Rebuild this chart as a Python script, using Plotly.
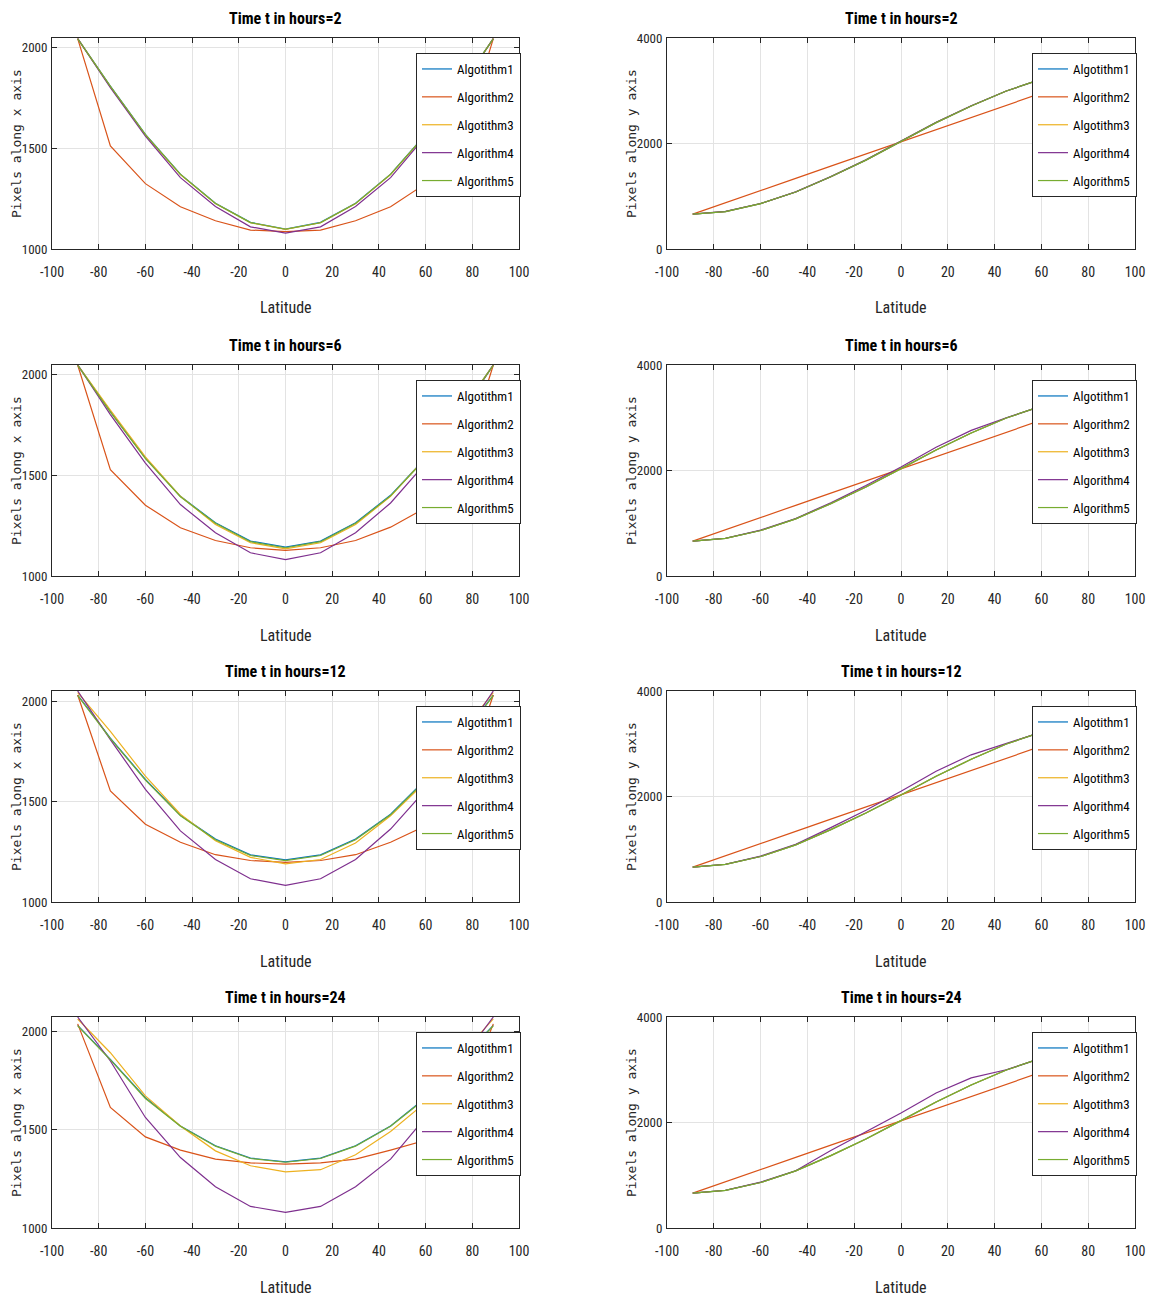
import plotly.graph_objects as go

# ---------------- data ----------------
latitude = [-89, -75, -60, -45, -30, -15, 0, 15, 30, 45, 60, 75, 89]
times = [2, 6, 12, 24]
names = ["Algotithm1", "Algorithm2", "Algotithm3", "Algorithm4", "Algorithm5"]
colors = ["#0072BD", "#D95319", "#EDB120", "#7E2F8E", "#77AC30"]

# Pixels along x axis (left column)
x_t2_alg1 = [2043, 1807, 1568, 1371, 1227, 1132, 1099, 1132, 1227, 1371, 1568, 1807, 2043]
x_t2_alg2 = [2043, 1511, 1324, 1209, 1140, 1094, 1086, 1094, 1140, 1209, 1324, 1511, 2043]
x_t2_alg3 = [2043, 1805, 1566, 1369, 1225, 1130, 1097, 1130, 1225, 1369, 1566, 1805, 2043]
x_t2_alg4 = [2043, 1800, 1560, 1354, 1211, 1110, 1079, 1110, 1211, 1354, 1560, 1800, 2043]
x_t2_alg5 = [2042, 1806, 1567, 1370, 1226, 1131, 1098, 1130, 1225, 1370, 1567, 1806, 2042]

x_t6_alg1 = [2046, 1816, 1585, 1395, 1264, 1173, 1143, 1173, 1264, 1400, 1585, 1816, 2046]
x_t6_alg2 = [2046, 1527, 1351, 1239, 1176, 1140, 1127, 1140, 1176, 1242, 1338, 1527, 2046]
x_t6_alg3 = [2046, 1822, 1590, 1395, 1255, 1165, 1135, 1165, 1255, 1395, 1585, 1816, 2046]
x_t6_alg4 = [2046, 1800, 1560, 1354, 1214, 1115, 1081, 1115, 1214, 1362, 1560, 1800, 2046]
x_t6_alg5 = [2044, 1812, 1582, 1393, 1261, 1170, 1140, 1170, 1261, 1397, 1582, 1812, 2044]

x_t12_alg1 = [2033, 1818, 1612, 1433, 1314, 1235, 1210, 1235, 1314, 1438, 1612, 1818, 2033]
x_t12_alg2 = [2033, 1554, 1388, 1298, 1236, 1207, 1198, 1207, 1236, 1298, 1380, 1554, 2033]
x_t12_alg3 = [2045, 1851, 1628, 1438, 1306, 1223, 1190, 1212, 1294, 1430, 1600, 1840, 2045]
x_t12_alg4 = [2053, 1810, 1562, 1355, 1212, 1116, 1083, 1116, 1212, 1364, 1560, 1810, 2053]
x_t12_alg5 = [2030, 1815, 1608, 1430, 1311, 1232, 1207, 1232, 1311, 1435, 1608, 1815, 2030]

x_t24_alg1 = [2032, 1859, 1664, 1520, 1419, 1356, 1337, 1356, 1419, 1520, 1664, 1859, 2032]
x_t24_alg2 = [2040, 1614, 1464, 1397, 1351, 1332, 1325, 1332, 1351, 1397, 1447, 1614, 2040]
x_t24_alg3 = [2065, 1893, 1673, 1520, 1393, 1317, 1286, 1297, 1373, 1492, 1640, 1880, 2065]
x_t24_alg4 = [2075, 1851, 1563, 1359, 1210, 1110, 1080, 1110, 1210, 1351, 1563, 1851, 2075]
x_t24_alg5 = [2030, 1857, 1660, 1518, 1417, 1354, 1335, 1354, 1417, 1518, 1660, 1857, 2030]

# Pixels along y axis (right column)
y_t2_alg1 = [660, 710, 860, 1080, 1370, 1685, 2040, 2395, 2710, 2995, 3220, 3370, 3420]
y_t2_alg2 = [660, 880, 1110, 1340, 1570, 1800, 2030, 2260, 2490, 2720, 2950, 3180, 3400]
y_t2_alg3 = [660, 710, 860, 1080, 1370, 1685, 2040, 2395, 2710, 2995, 3220, 3370, 3420]
y_t2_alg4 = [662, 712, 862, 1082, 1372, 1690, 2045, 2400, 2715, 2995, 3220, 3370, 3420]
y_t2_alg5 = [660, 710, 860, 1080, 1370, 1685, 2040, 2395, 2710, 2995, 3220, 3370, 3420]

y_t6_alg1 = [660, 712, 862, 1082, 1372, 1688, 2035, 2390, 2710, 2995, 3220, 3370, 3420]
y_t6_alg2 = [660, 880, 1110, 1340, 1570, 1800, 2030, 2260, 2490, 2720, 2950, 3180, 3400]
y_t6_alg3 = [660, 712, 862, 1082, 1372, 1688, 2035, 2390, 2710, 2995, 3220, 3370, 3420]
y_t6_alg4 = [660, 715, 870, 1090, 1390, 1715, 2065, 2440, 2760, 3000, 3220, 3370, 3420]
y_t6_alg5 = [660, 712, 862, 1082, 1372, 1688, 2035, 2390, 2710, 2995, 3220, 3370, 3420]

y_t12_alg1 = [660, 712, 862, 1082, 1372, 1688, 2030, 2385, 2705, 2995, 3220, 3370, 3420]
y_t12_alg2 = [660, 880, 1110, 1340, 1570, 1800, 2030, 2260, 2490, 2720, 2950, 3180, 3400]
y_t12_alg3 = [660, 712, 862, 1082, 1372, 1688, 2030, 2385, 2705, 2995, 3220, 3370, 3420]
y_t12_alg4 = [660, 715, 870, 1095, 1410, 1740, 2100, 2480, 2790, 3000, 3220, 3370, 3420]
y_t12_alg5 = [660, 712, 862, 1082, 1372, 1688, 2030, 2385, 2705, 2995, 3220, 3370, 3420]

y_t24_alg1 = [660, 712, 862, 1082, 1372, 1688, 2035, 2390, 2710, 2995, 3220, 3370, 3420]
y_t24_alg2 = [660, 880, 1110, 1340, 1570, 1800, 2030, 2260, 2490, 2720, 2950, 3180, 3400]
y_t24_alg3 = [660, 712, 862, 1082, 1372, 1688, 2035, 2390, 2710, 2995, 3220, 3370, 3420]
y_t24_alg4 = [660, 715, 870, 1085, 1469, 1820, 2180, 2560, 2845, 3000, 3220, 3370, 3420]
y_t24_alg5 = [660, 712, 862, 1082, 1372, 1688, 2035, 2390, 2710, 2995, 3220, 3370, 3420]

left_series = [
    [x_t2_alg1, x_t2_alg2, x_t2_alg3, x_t2_alg4, x_t2_alg5],
    [x_t6_alg1, x_t6_alg2, x_t6_alg3, x_t6_alg4, x_t6_alg5],
    [x_t12_alg1, x_t12_alg2, x_t12_alg3, x_t12_alg4, x_t12_alg5],
    [x_t24_alg1, x_t24_alg2, x_t24_alg3, x_t24_alg4, x_t24_alg5],
]
right_series = [
    [y_t2_alg1, y_t2_alg2, y_t2_alg3, y_t2_alg4, y_t2_alg5],
    [y_t6_alg1, y_t6_alg2, y_t6_alg3, y_t6_alg4, y_t6_alg5],
    [y_t12_alg1, y_t12_alg2, y_t12_alg3, y_t12_alg4, y_t12_alg5],
    [y_t24_alg1, y_t24_alg2, y_t24_alg3, y_t24_alg4, y_t24_alg5],
]
left_ytop = [2046, 2046, 2053, 2075]
x_ticks = [-100, -80, -60, -40, -20, 0, 20, 40, 60, 80, 100]
x_ticktext = ["-100", "-80", "-60", "-40", "-20", "0", "20", "40", "60", "80", "100"]
left_yticks = [1000, 1500, 2000]
right_yticks = [0, 2000, 4000]

# ---------------- layout ----------------
# page body has an 8px margin; the figure is sized to fill the rest of the window
OFF = 8
W, H = 1158 - OFF, 1299 - OFF
NARROW = ("Liberation Sans Narrow, Noto Sans ExtraCondensed, Roboto Condensed, "
          "Noto Sans Condensed, DejaVu Sans Condensed, sans-serif")
WIDE = "DejaVu Sans Mono, DejaVu Sans, monospace"
AX = "#262626"
GRID = "#e3e3e3"


def px(p):
    return (p - OFF) / W


def py(p):
    return 1 - (p - OFF) / H


col_px = [(52, 519), (667, 1135)]
row_top = [38, 365, 691, 1017]
row_h = 211

fig = go.Figure()
layout = dict(
    template="none",
    width=W, height=H, margin=dict(l=0, r=0, t=0, b=0, autoexpand=False),
    paper_bgcolor="white", plot_bgcolor="white",
    font=dict(family=NARROW, size=15, color=AX),
    annotations=[],
)

idx = 0
for r in range(4):
    for c in range(2):
        idx += 1
        sfx = "" if idx == 1 else str(idx)
        x0, x1 = col_px[c]
        top = row_top[r]
        bot = top + row_h
        xd = [px(x0), px(x1)]
        yd = [py(bot), py(top)]
        common = dict(showline=True, linecolor=AX, linewidth=1, mirror="ticks",
                      ticks="inside", ticklen=5, tickcolor=AX, tickwidth=1,
                      showgrid=True, gridcolor=GRID, gridwidth=1, zeroline=False,
                      automargin=False)
        layout["xaxis" + sfx] = dict(domain=xd, anchor="y" + sfx, range=[-100, 100],
                                     tickmode="array", tickvals=x_ticks, ticktext=x_ticktext,
                                     ticklabelstandoff=10,
                                     tickfont=dict(family=NARROW, size=14, color=AX), **common)
        if c == 0:
            yr = [1000, left_ytop[r]]
            yt = left_yticks
            ytitle = "Pixels along x axis"
            series = left_series[r]
        else:
            yr = [0, 4000]
            yt = right_yticks
            ytitle = "Pixels along y axis"
            series = right_series[r]
        layout["yaxis" + sfx] = dict(domain=yd, anchor="x" + sfx, range=yr,
                                     tickmode="array", tickvals=yt, ticktext=[str(v) for v in yt],
                                     ticklabelstandoff=1,
                                     tickfont=dict(family=NARROW, size=13, color=AX), **common)
        legname = "legend" + sfx
        for k in range(5):
            fig.add_trace(go.Scatter(
                x=latitude, y=series[k], mode="lines", name=names[k],
                line=dict(color=colors[k], width=1.2),
                xaxis="x" + sfx, yaxis="y" + sfx, legend=legname,
                legendgroup=f"g{idx}_{k}", showlegend=True, cliponaxis=True,
            ))
        lx0 = 416 if c == 0 else 1032
        layout[legname] = dict(
            x=px(lx0), y=py(top + 15), xanchor="left", yanchor="top",
            bgcolor="white", bordercolor=AX, borderwidth=1,
            font=dict(family=NARROW, size=13, color="black"),
            traceorder="grouped", tracegroupgap=8, itemwidth=30,
        )
        layout["annotations"].append(dict(
            text=f"<b>Time t in hours={times[r]}</b>", xref="paper", yref="paper",
            x=px((x0 + x1) / 2), y=py(top - 8), xanchor="center", yanchor="bottom",
            showarrow=False, font=dict(family=NARROW, size=16, color="black"),
        ))
        layout["annotations"].append(dict(
            text="Latitude", xref="paper", yref="paper",
            x=px((x0 + x1) / 2), y=py(bot + 59), xanchor="center", yanchor="middle",
            showarrow=False, font=dict(family=NARROW, size=16, color=AX),
        ))
        layout["annotations"].append(dict(
            text=ytitle, xref="paper", yref="paper", textangle=-90,
            x=px(x0 - 35.5), y=py(top + row_h / 2), xanchor="center", yanchor="middle",
            showarrow=False, font=dict(family=WIDE, size=13, color=AX),
        ))

fig.update_layout(**layout)
fig.write_html("out.html")
